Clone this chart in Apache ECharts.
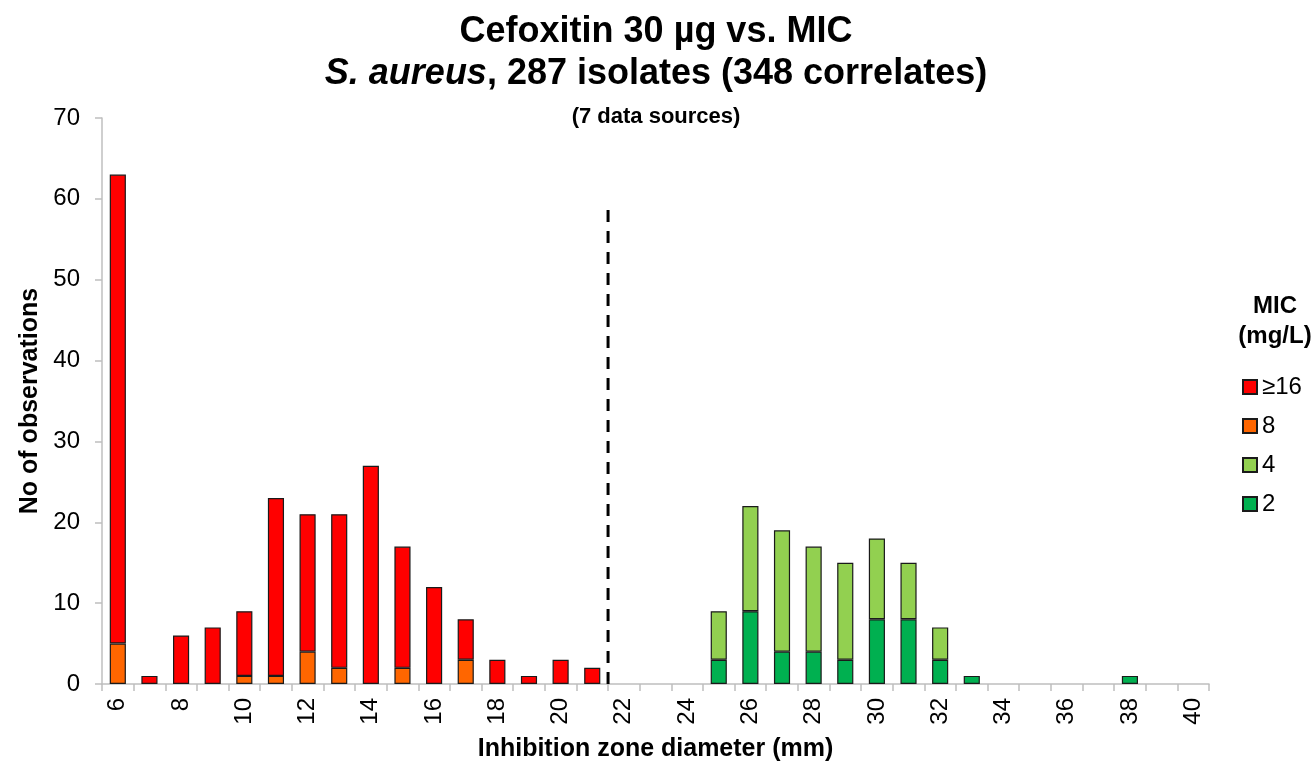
<!DOCTYPE html>
<html><head><meta charset="utf-8">
<script src="https://cdn.jsdelivr.net/npm/echarts@6/dist/echarts.min.js"></script>
<style>html,body{margin:0;padding:0;background:#fff}#c{width:1312px;height:762px}</style>
</head><body><div id="c"></div>
<script>
const categories = ['6','7','8','9','10','11','12','13','14','15','16','17','18','19','20','21','22','23','24','25','26','27','28','29','30','31','32','33','34','35','36','37','38','39','40'];
const mic16 = [58,1,6,7,8,22,17,19,27,15,12,5,3,1,3,2,0,0,0,0,0,0,0,0,0,0,0,0,0,0,0,0,0,0,0];
const mic8  = [5,0,0,0,1,1,4,2,0,2,0,3,0,0,0,0,0,0,0,0,0,0,0,0,0,0,0,0,0,0,0,0,0,0,0];
const mic4  = [0,0,0,0,0,0,0,0,0,0,0,0,0,0,0,0,0,0,0,6,13,15,13,12,10,7,4,0,0,0,0,0,0,0,0];
const mic2  = [0,0,0,0,0,0,0,0,0,0,0,0,0,0,0,0,0,0,0,3,9,4,4,3,8,8,3,1,0,0,0,0,1,0,0];
const breakpointLine = [[21.5,0],[21.5,59.4]];
const yTicks = {min:0, max:70, interval:10};

const chart = echarts.init(document.getElementById('c'));
const FONT = 'Liberation Sans, Arial, sans-serif';
const toNull = a => a.map(v => v === 0 ? null : v);
function barSeries(name, data, color){
  return {name, type:'bar', stack:'s', data: toNull(data), barWidth:'51%',
    itemStyle:{color, borderColor:'#1a1a1a', borderWidth:1.2}, xAxisIndex:0, yAxisIndex:0};
}
chart.setOption({
  animation:false,
  textStyle:{fontFamily:FONT},
  title:[
    {text:'Cefoxitin 30 µg vs. MIC', left:'center', top:9,
     textStyle:{fontFamily:FONT, fontSize:36, fontWeight:'bold', color:'#000'}},
    {text:'{i|S. aureus}{n|, 287 isolates (348 correlates)}', left:'center', top:51,
     textStyle:{rich:{i:{fontFamily:FONT, fontSize:36, fontWeight:'bold', fontStyle:'italic', color:'#000'},
                      n:{fontFamily:FONT, fontSize:36, fontWeight:'bold', color:'#000'}}}},
    {text:'(7 data sources)', left:'center', top:101,
     textStyle:{fontFamily:FONT, fontSize:22, fontWeight:'bold', color:'#000'}},
    {text:'MIC\n(mg/L)', left:1270, top:286, textAlign:'center',
     textStyle:{fontFamily:FONT, fontSize:24, fontWeight:'bold', color:'#000', lineHeight:30}}
  ],
  legend:{data:['≥16','8','4','2'], orient:'vertical', left:1237, top:370, itemGap:15,
    itemWidth:14, itemHeight:14, icon:'rect',
    textStyle:{fontFamily:FONT, fontSize:24, color:'#000'}},
  grid:{left:102, right:103, top:118, bottom:78, containLabel:false, outerBoundsMode:'none'},
  xAxis:[
    {type:'category', data:categories, boundaryGap:true,
     name:'Inhibition zone diameter (mm)', nameLocation:'middle', nameGap:53,
     nameTextStyle:{fontFamily:FONT, fontSize:25, fontWeight:'bold', color:'#000'},
     axisLine:{lineStyle:{color:'#bfbfbf', width:1.5}},
     axisTick:{show:true, interval:0, length:7, lineStyle:{color:'#bfbfbf', width:1.5}},
     axisLabel:{interval:1, rotate:90, fontFamily:FONT, fontSize:24, color:'#000', margin:14}},
    {type:'value', min:5.5, max:40.5, show:false}
  ],
  yAxis:{type:'value', min:yTicks.min, max:yTicks.max, interval:yTicks.interval,
    name:'No of observations', nameLocation:'middle', nameGap:57,
    nameTextStyle:{fontFamily:FONT, fontSize:25, fontWeight:'bold', color:'#000'},
    splitLine:{show:false},
    axisLine:{show:true, lineStyle:{color:'#bfbfbf', width:1.5}},
    axisTick:{show:true, length:7, lineStyle:{color:'#bfbfbf', width:1.5}},
    axisLabel:{fontFamily:FONT, fontSize:24, color:'#000', margin:22}},
  series:[
    barSeries('8', mic8, '#FF6600'),
    barSeries('≥16', mic16, '#FF0000'),
    barSeries('2', mic2, '#00B050'),
    barSeries('4', mic4, '#92D050'),
    {name:'breakpoint', type:'line', xAxisIndex:1, yAxisIndex:0, data:breakpointLine,
     symbol:'none', lineStyle:{color:'#000', width:3, type:[12,9]}, silent:true}
  ]
});
</script></body></html>
